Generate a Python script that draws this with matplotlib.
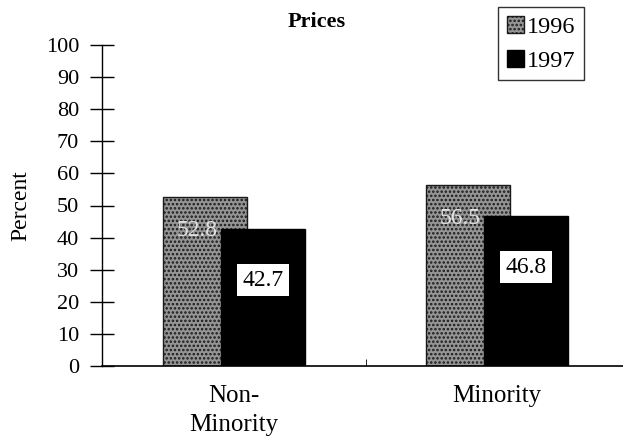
import matplotlib
matplotlib.use("Agg")
import matplotlib.pyplot as plt
from matplotlib.patches import Patch
import numpy as np

categories = ["Non-\nMinority", "Minority"]
series_names = ["1996", "1997"]
values_1996 = [52.8, 56.5]
values_1997 = [42.7, 46.8]
labels_1996 = ["52.8", "56.5"]
labels_1997 = ["42.7", "46.8"]
yticks = [0, 10, 20, 30, 40, 50, 60, 70, 80, 90, 100]

plt.rcParams['font.family'] = ['Liberation Serif', 'DejaVu Serif']
plt.rcParams['hatch.linewidth'] = 1.2

fig = plt.figure(figsize=(6.23, 4.45), dpi=100)
ax = fig.add_axes([102/623, 1 - 366/445, 527/623, 321/445])

x = np.arange(len(categories))
w = 0.32
off = 0.11
b1 = ax.bar(x - off, values_1996, w, facecolor='#959595', edgecolor='#1a1a1a',
            hatch='....', linewidth=1.0, zorder=2)
b2 = ax.bar(x + off, values_1997, w, facecolor='black', edgecolor='black',
            linewidth=1.0, zorder=3)

for xi, v, lab in zip(x, values_1996, labels_1996):
    ax.text(xi - off - 0.03, v - 10.5, lab, ha='center', va='center',
            fontsize=17, color='#e0e0e0', zorder=2.5)
for xi, v, lab in zip(x, values_1997, labels_1997):
    ax.text(xi + off, v - 16, lab, ha='center', va='center', fontsize=17,
            color='black', zorder=4,
            bbox=dict(facecolor='white', edgecolor='none', pad=4))

ax.set_xlim(-0.5, 1.5)
ax.set_ylim(0, 100)
ax.set_yticks(yticks)
ax.set_yticklabels([str(t) for t in yticks], fontsize=16)
ax.tick_params(axis='y', direction='inout', length=17, width=1, pad=8)
ax.set_xticks(x)
ax.set_xticklabels(categories, fontsize=18, linespacing=1.4)
ax.tick_params(axis='x', length=0, pad=14)
ax.set_xticks([0.5], minor=True)
ax.tick_params(axis='x', which='minor', direction='in', length=5)

ax.spines['top'].set_visible(False)
ax.spines['right'].set_visible(False)
ax.spines['left'].set_linewidth(1)
ax.spines['bottom'].set_linewidth(1.2)

ax.set_ylabel("Percent", fontsize=17, labelpad=10)
fig.text(317/623, 1 - 22/445, "Prices", ha='center', va='center',
         fontsize=16, fontweight='bold')

handles = [Patch(facecolor='#959595', edgecolor='#1a1a1a', hatch='....'),
           Patch(facecolor='black', edgecolor='black')]
leg = fig.legend(handles, series_names, loc='upper left',
                 bbox_to_anchor=(498/623, 1 - 7/445), fontsize=17.5,
                 frameon=True, fancybox=False, edgecolor='black',
                 handlelength=0.7, handleheight=0.7, handletextpad=0.15,
                 labelspacing=0.5, borderpad=0.35, borderaxespad=0)
leg.get_frame().set_linewidth(1)

fig.savefig("out.png", dpi=100)
